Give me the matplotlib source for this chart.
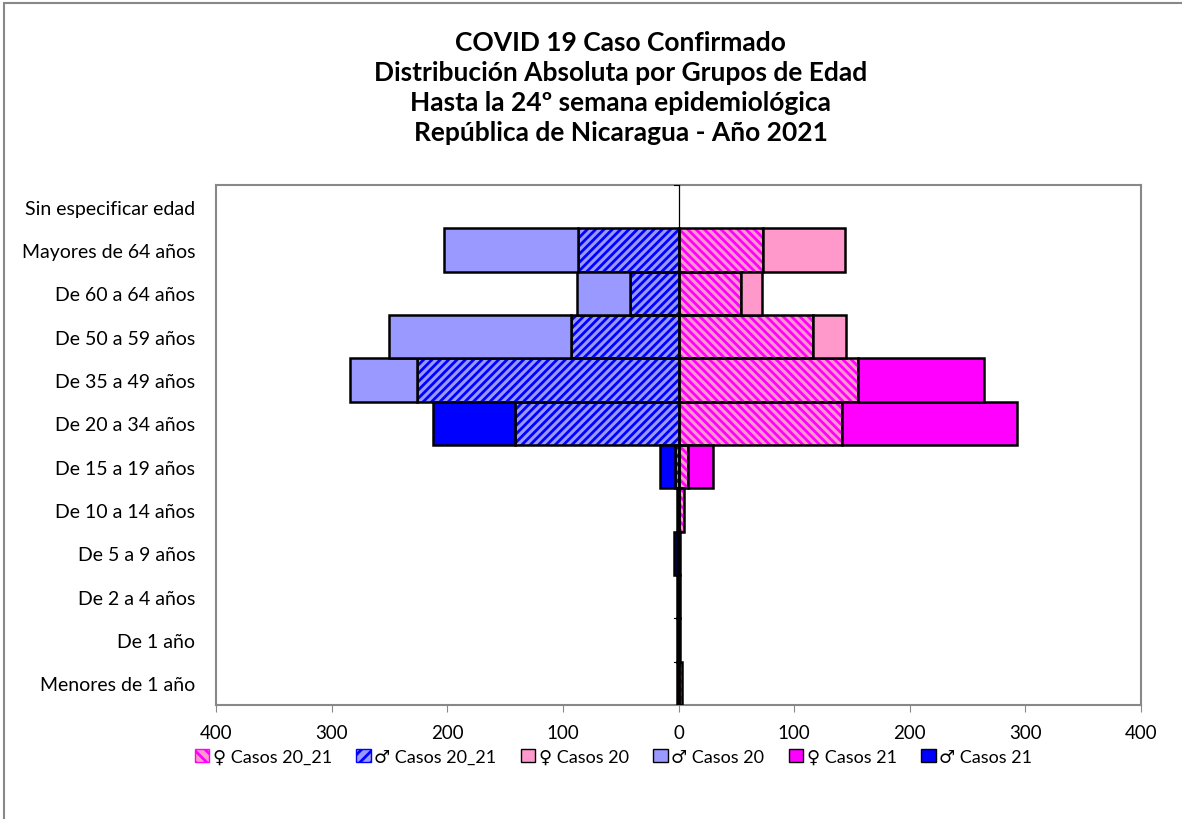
import numpy as np
import matplotlib
matplotlib.use("Agg")
import matplotlib.pyplot as plt
from matplotlib.patches import Patch, Rectangle

plt.rcParams['font.family'] = ['Lato', 'DejaVu Sans']
plt.rcParams['hatch.linewidth'] = 2.0

# age groups, bottom to top
categorias = ["Menores de 1 año", "De 1 año", "De 2 a 4 años", "De 5 a 9 años",
              "De 10 a 14 años", "De 15 a 19 años", "De 20 a 34 años",
              "De 35 a 49 años", "De 50 a 59 años", "De 60 a 64 años",
              "Mayores de 64 años", "Sin especificar edad"]

fem_20_21 = [3, 1, 1, 1, 5, 8, 141, 155, 116, 54, 73, 0]
mas_20_21 = [1, 1, 1, 1, 1, 3, 141, 226, 93, 42, 87, 0]
fem_20 = [0, 0, 0, 0, 0, 0, 0, 0, 29, 18, 71, 0]
mas_20 = [0, 0, 0, 0, 0, 0, 0, 58, 157, 46, 116, 0]
fem_21 = [0, 0, 0, 0, 0, 22, 152, 109, 0, 0, 0, 0]
mas_21 = [0, 0, 0, 3, 0, 13, 71, 0, 0, 0, 0, 0]

ticks_x = [-400, -300, -200, -100, 0, 100, 200, 300, 400]

C_ROSA = '#FF99CC'
C_LILA = '#9999FF'
C_MAG = '#FF00FF'
C_AZUL = '#0000FF'

fig = plt.figure(figsize=(11.82, 8.2), dpi=100)
fig.patches.append(Rectangle((4 / 1182, -0.1), 1.2, 1.1 - 4 / 820, transform=fig.transFigure,
                             fill=False, edgecolor='#888888', lw=1.5))
ax = fig.add_axes([216 / 1182, 1 - 706 / 820, (1141 - 216) / 1182, (706 - 186) / 820])

y = np.arange(len(categorias))
h = 1.0


def barras(vals, base, signo, color, hatch=None, hcol=None):
    vals = np.array(vals, dtype=float)
    m = vals > 0
    if hatch:
        ax.barh(y[m], signo * vals[m], left=base[m], height=h, color=color,
                edgecolor=hcol, hatch=hatch, linewidth=0, zorder=2)
        ax.barh(y[m], signo * vals[m], left=base[m], height=h, fill=False,
                edgecolor='black', linewidth=1.8, zorder=3)
    else:
        ax.barh(y[m], signo * vals[m], left=base[m], height=h, color=color,
                edgecolor='black', linewidth=1.8, zorder=3)
    return base + signo * vals


b = np.zeros(len(y))
b = barras(mas_20_21, b, -1, C_LILA, '////', C_AZUL)
b = barras(mas_20, b, -1, C_LILA)
b = barras(mas_21, b, -1, C_AZUL)

b = np.zeros(len(y))
b = barras(fem_20_21, b, 1, C_ROSA, '\\\\\\\\', C_MAG)
b = barras(fem_20, b, 1, C_ROSA)
b = barras(fem_21, b, 1, C_MAG)

ax.axvline(0, color='black', lw=0.9, zorder=4)
for yy in np.arange(len(y) + 1) - 0.5:
    ax.plot([-4, 0], [yy, yy], color='black', lw=0.8, zorder=4)

ax.set_xlim(-400, 400)
ax.set_ylim(-0.5, len(y) - 0.5)
ax.set_xticks(ticks_x)
ax.set_xticklabels([str(abs(t)) for t in ticks_x], fontsize=13.5)
ax.set_yticks(y)
ax.set_yticklabels(categorias, fontsize=14)
ax.tick_params(axis='y', length=0, pad=15)
ax.tick_params(axis='x', direction='out', length=5, pad=9, color='#888888')
for s in ax.spines.values():
    s.set_color('#888888')
    s.set_linewidth(1.5)

fig.text(0.525, 0.962, "COVID 19 Caso Confirmado\nDistribución Absoluta por Grupos de Edad\n"
         "Hasta la 24º semana epidemiológica\nRepública de Nicaragua - Año 2021",
         ha='center', va='top', fontsize=19, fontweight='bold', linespacing=1.29)

handles = [
    Patch(facecolor=C_ROSA, edgecolor=C_MAG, hatch='\\\\\\'),
    Patch(facecolor=C_LILA, edgecolor=C_AZUL, hatch='///'),
    Patch(facecolor=C_ROSA, edgecolor='black'),
    Patch(facecolor=C_LILA, edgecolor='black'),
    Patch(facecolor=C_MAG, edgecolor='black'),
    Patch(facecolor=C_AZUL, edgecolor='black'),
]
labels = ["♀ Casos 20_21", "♂ Casos 20_21", "♀ Casos 20", "♂ Casos 20", "♀ Casos 21", "♂ Casos 21"]
fig.legend(handles, labels, loc='center', bbox_to_anchor=(0.519, 0.076), ncol=6, frameon=False,
           fontsize=13, handlelength=0.8, handleheight=0.8, handletextpad=0.2, columnspacing=1.35)

fig.savefig('out.png', dpi=100)
